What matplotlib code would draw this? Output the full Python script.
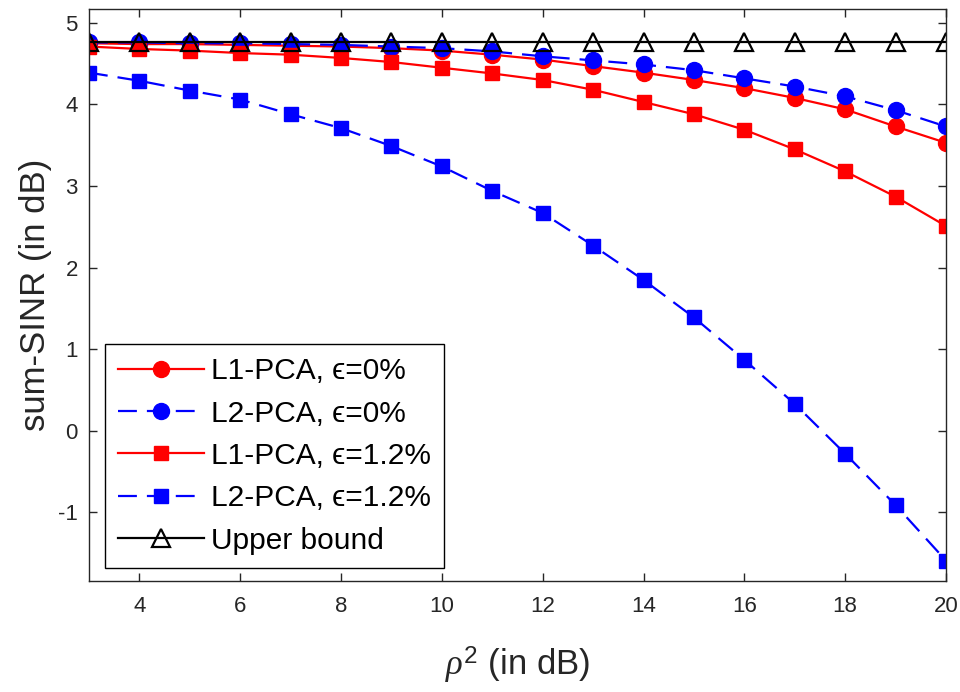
import matplotlib
matplotlib.use("Agg")
import matplotlib.pyplot as plt

plt.rcParams['font.family'] = ['Liberation Sans', 'DejaVu Sans']
plt.rcParams['mathtext.fontset'] = 'custom'
plt.rcParams['mathtext.rm'] = 'Liberation Sans'
plt.rcParams['mathtext.it'] = 'Liberation Serif:italic'
plt.rcParams['mathtext.bf'] = 'Liberation Sans:bold'
plt.rcParams['mathtext.fallback'] = 'stix'
plt.rcParams['axes.unicode_minus'] = False

# rho^2 in dB
rho2 = [3, 4, 5, 6, 7, 8, 9, 10, 11, 12, 13, 14, 15, 16, 17, 18, 19, 20]

# sum-SINR (dB) for each scheme
l1_eps0 = [4.75, 4.74, 4.74, 4.73, 4.72, 4.71, 4.69, 4.66, 4.61, 4.55,
           4.47, 4.39, 4.30, 4.20, 4.08, 3.94, 3.73, 3.53]
l2_eps0 = [4.76, 4.76, 4.75, 4.75, 4.74, 4.73, 4.71, 4.69, 4.65, 4.59,
           4.54, 4.49, 4.42, 4.32, 4.22, 4.10, 3.93, 3.73]
l1_eps12 = [4.71, 4.68, 4.66, 4.63, 4.61, 4.57, 4.52, 4.45, 4.38, 4.30,
            4.18, 4.03, 3.88, 3.69, 3.45, 3.18, 2.87, 2.51]
l2_eps12 = [4.39, 4.29, 4.17, 4.06, 3.88, 3.71, 3.49, 3.24, 2.94, 2.67,
            2.27, 1.85, 1.39, 0.87, 0.33, -0.28, -0.91, -1.59]
upper = [4.76] * len(rho2)

labels = ['L1-PCA, \u03f5=0%', 'L2-PCA, \u03f5=0%',
          'L1-PCA, \u03f5=1.2%', 'L2-PCA, \u03f5=1.2%', 'Upper bound']

fig = plt.figure(figsize=(9.6, 6.92), dpi=100)
ax = fig.add_axes([0.0927, 0.1604, 0.8927, 0.8266])

lw = 1.6
dash = (8.5, 4.5)
ax.plot(rho2, l1_eps0, '-', color='#ff0000', lw=lw, marker='o', ms=11.5,
        label=labels[0])
ax.plot(rho2, l2_eps0, '--', color='#0000ff', lw=lw, marker='o', ms=11.5,
        dashes=dash, label=labels[1])
ax.plot(rho2, l1_eps12, '-', color='#ff0000', lw=lw, marker='s', ms=10.5,
        label=labels[2])
ax.plot(rho2, l2_eps12, '--', color='#0000ff', lw=lw, marker='s', ms=10.5,
        dashes=dash, label=labels[3])
ax.plot(rho2, upper, '-', color='black', lw=lw, marker='^', ms=13,
        mfc='none', mew=1.6, label=labels[4])

ax.set_xlim(3, 20)
ax.set_ylim(-1.84, 5.17)
ax.set_xticks([4, 6, 8, 10, 12, 14, 16, 18, 20])
ax.set_yticks([-1, 0, 1, 2, 3, 4, 5])

ax.tick_params(direction='in', top=True, right=True, length=6, width=1,
               labelsize=16, colors='#262626')
ax.tick_params(axis='x', pad=11)
ax.tick_params(axis='y', pad=8)
for s in ax.spines.values():
    s.set_color('#262626')
    s.set_linewidth(1)

ax.set_xlabel(r'$\rho^2$ (in dB)', fontsize=25, color='#262626', labelpad=20)
ax.set_ylabel('sum-SINR (in dB)', fontsize=25, color='#262626', labelpad=4)

leg = ax.legend(loc='lower left', bbox_to_anchor=(0.0187, 0.0227),
                borderaxespad=0, fontsize=21.5, fancybox=False, framealpha=1,
                edgecolor='black', handlelength=2.85, handletextpad=0.25,
                labelspacing=0.48, borderpad=0.45)
leg.get_frame().set_linewidth(1)

fig.savefig('out.png', dpi=100)
